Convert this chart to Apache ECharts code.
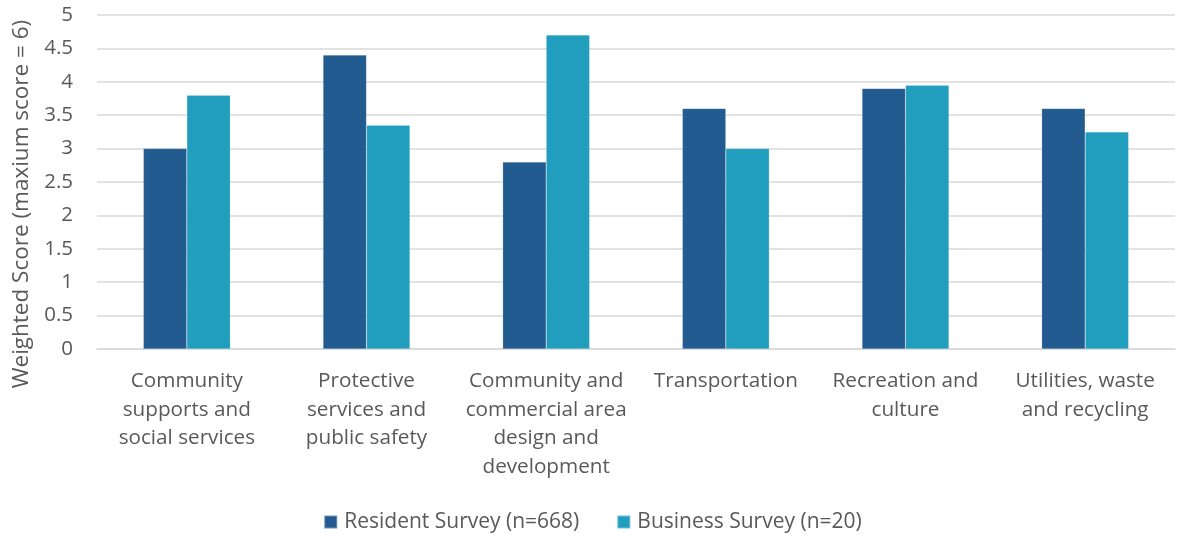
<!DOCTYPE html>
<html>
<head>
<meta charset="utf-8">
<script src="https://cdn.jsdelivr.net/npm/echarts@6/dist/echarts.min.js"></script>
<style>
  html, body { margin: 0; padding: 0; background: #fff; }
  #chart { width: 1185px; height: 535px; }
</style>
</head>
<body>
<div id="chart"></div>
<script>
// Service areas (line breaks follow the printed wrapping)
const categories = [
  'Community\nsupports and\nsocial services',
  'Protective\nservices and\npublic safety',
  'Community and\ncommercial area\ndesign and\ndevelopment',
  'Transportation',
  'Recreation and\nculture',
  'Utilities, waste\nand recycling'
];
const residentScores = [3.0, 4.4, 2.8, 3.6, 3.9, 3.6];
const businessScores = [3.8, 3.35, 4.7, 3.0, 3.95, 3.25];
const seriesNames = ['Resident Survey (n=668)', 'Business Survey (n=20)'];
const yTitle = 'Weighted Score (maxium score = 6)';

const FONT = '"Open Sans", "Liberation Sans", sans-serif';
const TEXT = '#595959';

const chart = echarts.init(document.getElementById('chart'), null, { renderer: 'canvas' });
chart.setOption({
  animation: false,
  color: ['#225b8f', '#219ebd'],
  textStyle: { fontFamily: FONT, color: TEXT },
  grid: { left: 97, right: 10, top: 15, bottom: 186 },
  legend: {
    top: 509,
    padding: 0,
    left: 'center',
    itemWidth: 13,
    itemHeight: 13,
    itemGap: 37,
    icon: 'rect',
    textStyle: { fontFamily: FONT, fontSize: 21, lineHeight: 26, color: TEXT, padding: [0, 0, 0, 2] },
    data: seriesNames
  },
  xAxis: {
    type: 'category',
    data: categories,
    axisTick: { show: false },
    axisLine: { lineStyle: { color: '#d9d9d9', width: 1.5 } },
    axisLabel: {
      interval: 0,
      margin: 18,
      fontFamily: FONT,
      fontSize: 20.7,
      lineHeight: 28.5,
      color: TEXT,
      align: 'center'
    }
  },
  yAxis: {
    type: 'value',
    min: 0,
    max: 5,
    interval: 0.5,
    name: yTitle,
    nameLocation: 'middle',
    nameGap: 64,
    nameTextStyle: { fontFamily: FONT, fontSize: 22.5, color: TEXT, padding: [0, 44, 0, 0] },
    axisLine: { show: false },
    axisTick: { show: false },
    axisLabel: { fontFamily: FONT, fontSize: 20.5, color: TEXT, margin: 24 },
    splitLine: { lineStyle: { color: '#d9d9d9', width: 1.5 } }
  },
  series: [
    {
      name: seriesNames[0],
      type: 'bar',
      data: residentScores,
      barWidth: '24.2%',
      barGap: '0%',
      itemStyle: { borderColor: 'rgba(255,255,255,0.35)', borderWidth: 0.5 }
    },
    {
      name: seriesNames[1],
      type: 'bar',
      data: businessScores,
      barWidth: '24.2%',
      barGap: '0%',
      itemStyle: { borderColor: 'rgba(255,255,255,0.35)', borderWidth: 0.5 }
    }
  ]
});
</script>
</body>
</html>
